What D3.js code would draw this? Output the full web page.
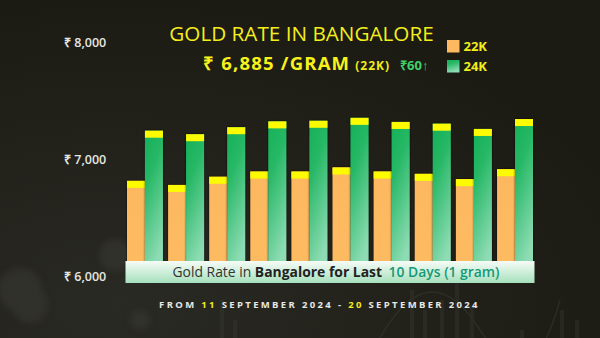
<!DOCTYPE html>
<html><head><meta charset="utf-8">
<script src="https://cdn.jsdelivr.net/npm/d3@7"></script>
<style>
html,body{margin:0;padding:0;background:#1b1a13;}
svg{display:block;}
</style></head>
<body>
<script>
const dates = ["11 Sep","12 Sep","13 Sep","14 Sep","15 Sep","16 Sep","17 Sep","18 Sep","19 Sep","20 Sep"];
const rate22k = [6815, 6780, 6850, 6895, 6895, 6930, 6895, 6875, 6830, 6915];
const rate24k = [7245, 7215, 7275, 7325, 7330, 7355, 7320, 7305, 7260, 7345];
const yTicks = [6000, 7000, 8000];
const seriesNames = ["22K","24K"];

const W = 600, H = 338;
const svg = d3.select("body").append("svg").attr("width", W).attr("height", H);
const defs = svg.append("defs");

// background
const bg = defs.append("radialGradient").attr("id","bg").attr("cx","0.2").attr("cy","0.9").attr("r","0.9");
bg.append("stop").attr("offset","0").attr("stop-color","#2a2a24");
bg.append("stop").attr("offset","1").attr("stop-color","#1b1a13");
svg.append("rect").attr("width",W).attr("height",H).attr("fill","url(#bg)");
defs.append("filter").attr("id","blur").append("feGaussianBlur").attr("stdDeviation",3);
const deco = svg.append("g").attr("filter","url(#blur)").attr("opacity",0.5);
[[20,290,22],[30,305,18],[115,255,16],[140,320,10]].forEach(c=>deco.append("circle").attr("cx",c[0]).attr("cy",c[1]).attr("r",c[2]).attr("fill","#3a3a34"));
const deco2 = svg.append("g").attr("opacity",0.35);
[[410,290],[423,310],[440,300],[455,280],[470,305],[520,330],[560,310],[575,320],[220,300],[233,320]].forEach(d=>deco2.append("rect").attr("x",d[0]).attr("y",d[1]).attr("width",4).attr("height",H-d[1]).attr("fill","#3c3c36"));
deco2.append("path").attr("d","M380,338 Q430,250 480,330 T560,300").attr("fill","none").attr("stroke","#44443e").attr("stroke-width",1.5);

// scales
const x = d3.scaleBand().domain(dates).range([127, 533]).paddingInner(0.126).paddingOuter(0);
const x2 = d3.scaleBand().domain(seriesNames).range([0, x.bandwidth()]).padding(0);
const y = d3.scaleLinear().domain([6000, 8000]).range([276, 42.6]);

// gradients
const g24 = defs.append("linearGradient").attr("id","g24").attr("x1","0").attr("y1","0").attr("x2","0.3").attr("y2","1");
g24.append("stop").attr("offset","0").attr("stop-color","#14b057");
g24.append("stop").attr("offset","0.35").attr("stop-color","#27b866");
g24.append("stop").attr("offset","1").attr("stop-color","#8edcb4");
const g22 = defs.append("linearGradient").attr("id","g22").attr("x1","0").attr("y1","0").attr("x2","0").attr("y2","1");
g22.append("stop").attr("offset","0").attr("stop-color","#fdb85e");
g22.append("stop").attr("offset","1").attr("stop-color","#fdbb62");
const sh = defs.append("filter").attr("id","sh").attr("x","-0.3").attr("y","-0.3").attr("width","1.6").attr("height","1.6");
sh.append("feDropShadow").attr("dx",0).attr("dy",0).attr("stdDeviation",0.8).attr("flood-color","#000").attr("flood-opacity",0.7);

// y axis labels
const yAxis = d3.axisLeft(y).tickValues(yTicks).tickSize(0).tickFormat(d => "₹ " + d3.format(",")(d));
const ya = svg.append("g").attr("transform","translate(64,0)").call(yAxis);
ya.select(".domain").remove();
ya.selectAll("text").attr("text-anchor","start").attr("x",0).attr("dy","0.35em")
  .attr("fill","#e6e6e0").attr("font-family","Open Sans, sans-serif").attr("font-size",12.5).attr("font-weight",600);

// bars
const data = dates.map((d,i)=>({date:d, vals:[{k:"22K",v:rate22k[i]},{k:"24K",v:rate24k[i]}]}));
const groups = svg.append("g").selectAll("g").data(data).join("g").attr("transform", d=>`translate(${x(d.date)},0)`);
const bars = groups.selectAll("g").data(d=>d.vals).join("g").attr("filter","url(#sh)");
bars.append("rect").attr("x",d=>x2(d.k)).attr("width",x2.bandwidth()).attr("y",d=>y(d.v))
  .attr("height",d=>y(6000)-y(d.v)).attr("fill",d=>d.k==="22K"?"url(#g22)":"url(#g24)");
bars.append("rect").attr("x",d=>x2(d.k)).attr("width",x2.bandwidth()).attr("y",d=>y(d.v))
  .attr("height",7).attr("fill","#fdfb00");

// banner
const bn = defs.append("linearGradient").attr("id","bn").attr("x1","0").attr("y1","0").attr("x2","0").attr("y2","1");
bn.append("stop").attr("offset","0").attr("stop-color","#f6fcf7");
bn.append("stop").attr("offset","1").attr("stop-color","#a6e0bd");
svg.append("rect").attr("x",125.5).attr("y",261).attr("width",409).attr("height",22).attr("fill","url(#bn)");
const bt = svg.append("text").attr("x",172.5).attr("y",277).attr("font-family","Open Sans, sans-serif").attr("font-size",13.9);
bt.append("tspan").attr("fill","#333").text("Gold Rate in ");
bt.append("tspan").attr("fill","#222").attr("font-weight",700).text("Bangalore for Last ");
bt.append("tspan").attr("fill","#149a78").attr("font-weight",600).attr("dx",3).text("10 Days (1 gram)");

// title
svg.append("text").attr("x",301.5).attr("y",41).attr("text-anchor","middle")
  .attr("font-family","Open Sans, sans-serif").attr("font-size",20.7).attr("fill","#f3ee1c").text("GOLD RATE IN BANGALORE");
const t2 = svg.append("text").attr("x",203).attr("y",70).attr("font-family","Open Sans, sans-serif").attr("font-weight",700);
t2.append("tspan").attr("font-size",18.5).attr("letter-spacing",1.2).attr("fill","#f7f21b").text("₹ 6,885 /GRAM");
t2.append("tspan").attr("font-size",12).attr("letter-spacing",1).attr("fill","#f0ec1a").attr("dx",5).text("(22K)");
t2.append("tspan").attr("font-size",13).attr("fill","#3fd26a").attr("font-weight",700).attr("dx",10).text("₹60↑");

// legend
const lg = svg.append("g").attr("transform","translate(447,40)");
const legendColors = ["#fdb95f","url(#g24)"];
seriesNames.forEach((s,i)=>{
  lg.append("rect").attr("x",0).attr("y",i*20).attr("width",12.5).attr("height",12.5).attr("fill",legendColors[i]);
  lg.append("text").attr("x",16.5).attr("y",i*20+11).attr("font-family","Open Sans, sans-serif").attr("font-weight",700)
    .attr("font-size",13).attr("fill","#f2ee1a").text(s);
});

// footer
const ft = svg.append("text").attr("x",319.5).attr("y",307.5).attr("text-anchor","middle")
  .attr("font-family","Open Sans, sans-serif").attr("font-weight",700).attr("font-size",9.5).attr("letter-spacing",2.35).attr("fill","#e8e8e4");
ft.append("tspan").text("FROM ");
ft.append("tspan").attr("fill","#f2ee1a").text("11");
ft.append("tspan").text(" SEPTEMBER 2024 - ");
ft.append("tspan").attr("fill","#f2ee1a").text("20");
ft.append("tspan").text(" SEPTEMBER 2024");
</script>
</body></html>
